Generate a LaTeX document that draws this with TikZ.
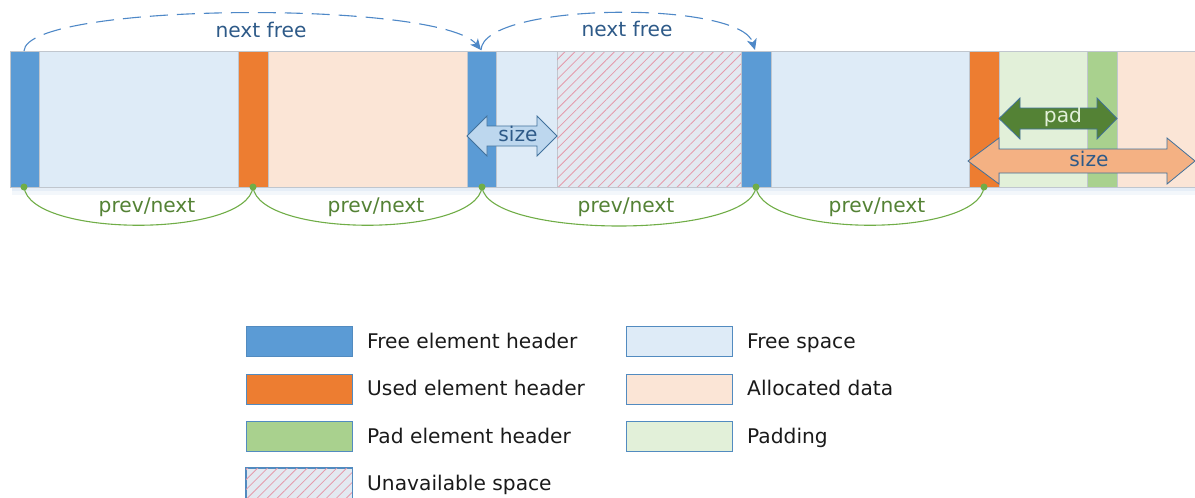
\documentclass[tikz,border=0pt]{standalone}
\usepackage{fontspec}
\setmainfont{DejaVu Sans}
\usetikzlibrary{patterns.meta,arrows.meta}
\definecolor{hdrblue}{HTML}{5B9BD5}
\definecolor{hdrorange}{HTML}{ED7D31}
\definecolor{hdrgreen}{HTML}{A9D18E}
\definecolor{spblue}{HTML}{DEEBF7}
\definecolor{sporange}{HTML}{FBE5D6}
\definecolor{spgreen}{HTML}{E2F0D9}
\definecolor{hatchbg}{HTML}{E3E9F1}
\definecolor{hatchln}{HTML}{E59AAB}
\definecolor{edgegray}{HTML}{C0C6CE}
\definecolor{arcblue}{HTML}{4E88C7}
\definecolor{txtblue}{HTML}{2E5A88}
\definecolor{arcgreen}{HTML}{70AD47}
\definecolor{txtgreen}{HTML}{548235}
\definecolor{arrowedge}{HTML}{41719C}
\definecolor{sizefill}{HTML}{BDD7EE}
\definecolor{sizeorange}{HTML}{F4B183}
\definecolor{padfill}{HTML}{548235}
\definecolor{padtxt}{HTML}{E2F0D9}
\definecolor{legtxt}{HTML}{1A1A1A}
\definecolor{shadowc}{HTML}{E6EEF7}
\newcommand\mydarrow[8]{%
  \path[#8] ({#1},{#5}) -- ({#2},{#5-#6}) -- ({#2},{#5-#7}) -- ({#3},{#5-#7}) -- ({#3},{#5-#6}) -- ({#4},{#5})
   -- ({#3},{#5+#6}) -- ({#3},{#5+#7}) -- ({#2},{#5+#7}) -- ({#2},{#5+#6}) -- cycle;}
\tikzset{
  seg/.style={draw=edgegray, line width=0.6pt},
  lbl/.style={font=\fontsize{20.2}{24}\selectfont, inner sep=1pt},
  nextarc/.style={draw=arcblue, line width=1.1pt, dash pattern=on 18pt off 9pt, -{Stealth[length=11pt,width=10pt,inset=3pt]}},
  prevarc/.style={draw=arcgreen, line width=1.1pt},
  gdot/.style={circle, fill=arcgreen, inner sep=0pt, minimum size=7pt},
  legbox/.style={draw=hdrblue!90!black, line width=0.8pt, minimum width=106pt, minimum height=30pt, inner sep=0pt},
  legtext/.style={lbl, text=legtxt, anchor=base west},
  hatch/.style={pattern={Lines[angle=45,distance=7pt,line width=0.8pt]}, pattern color=hatchln}
}
\begin{document}
\begin{tikzpicture}[x=1pt,y=-1pt]
\useasboundingbox (0,0) rectangle (1195,498);
% soft shadow under bar
\fill[shadowc] (12,187) rectangle (1195,191);
\fill[shadowc!50] (12,191) rectangle (1195,195);
% bar segments
\path[seg, fill=hdrblue]   (10,51) rectangle (39,187);
\path[seg, fill=spblue]    (39,51) rectangle (238,187);
\path[seg, fill=hdrorange] (238,51) rectangle (268,187);
\path[seg, fill=sporange]  (268,51) rectangle (467,187);
\path[seg, fill=hdrblue]   (467,51) rectangle (496,187);
\path[seg, fill=spblue]    (496,51) rectangle (557,187);
\path[seg, fill=hatchbg]   (557,51) rectangle (741,187);
\path[hatch] (557,51) rectangle (741,187);
\path[seg, fill=hdrblue]   (741,51) rectangle (771,187);
\path[seg, fill=spblue]    (771,51) rectangle (969,187);
\path[seg, fill=hdrorange] (969,51) rectangle (999,187);
\path[seg, fill=spgreen]   (999,51) rectangle (1087,187);
\path[seg, fill=hdrgreen]  (1087,51) rectangle (1117,187);
\path[seg, fill=sporange]  (1117,51) rectangle (1196,187);
\draw[edgegray, line width=0.8pt] (10,51) -- (1196,51);
\draw[edgegray, line width=0.8pt] (10,187) -- (1196,187);
% coordinates
\coordinate (t1) at (24,51);
\coordinate (t2) at (481,50);
\coordinate (t3) at (755,50);
\node[gdot] (d1) at (24,187) {};
\node[gdot] (d2) at (253,187) {};
\node[gdot] (d3) at (482,187) {};
\node[gdot] (d4) at (756,187) {};
\node[gdot] (d5) at (984,187) {};
% next free arcs
\draw[nextarc] (t1) .. controls (26,2) and (440,0) .. (t2);
\draw[nextarc] (t2) .. controls (483,2) and (740,0) .. (t3);
\node[lbl, text=txtblue] (nf1) at (261,30) {next free};
\node[lbl, text=txtblue] (nf2) at (627,29) {next free};
% prev/next arcs
\draw[prevarc] (d1.center) .. controls (30,238) and (247,238) .. (d2.center);
\draw[prevarc] (d2.center) .. controls (259,238) and (476,238) .. (d3.center);
\draw[prevarc] (d3.center) .. controls (488,239) and (750,239) .. (d4.center);
\draw[prevarc] (d4.center) .. controls (762,238) and (978,238) .. (d5.center);
\node[lbl, text=txtgreen, fill=white] (pn1) at (147,207) {prev/next};
\node[lbl, text=txtgreen, fill=white] (pn2) at (376,207) {prev/next};
\node[lbl, text=txtgreen, fill=white] (pn3) at (626,207) {prev/next};
\node[lbl, text=txtgreen, fill=white] (pn4) at (877,207) {prev/next};
% size arrow (free)
\mydarrow{467}{487}{537}{557}{136}{20}{10}{fill=sizefill, draw=arrowedge, line width=0.8pt}
\node[lbl, text=txtblue] (sz1) at (518,134) {size};
% pad arrow
\mydarrow{999}{1020}{1097}{1117}{118.5}{20.5}{10.5}{fill=padfill, draw=arrowedge, line width=0.8pt}
\node[lbl, text=padtxt] (pad) at (1063,117) {pad};
% size arrow (used)
\mydarrow{968}{999}{1167}{1195}{161}{23}{12}{fill=sizeorange, draw=arrowedge, line width=0.8pt}
\node[lbl, text=txtblue] (sz2) at (1089,159) {size};
% legend
\node[legbox, fill=hdrblue]   (lb1) at (299,341) {};
\node[legbox, fill=hdrorange] (lb2) at (299,389) {};
\node[legbox, fill=hdrgreen]  (lb3) at (299,436) {};
\node[legbox, fill=hatchbg]   (lb4) at (299,483) {};
\path[hatch] (lb4.south west) rectangle (lb4.north east);
\draw[hdrblue!90!black, line width=0.8pt] (lb4.south west) rectangle (lb4.north east);
\node[legtext] (lt1) at (366,348.5) {Free element header};
\node[legtext] (lt2) at (366,395.5) {Used element header};
\node[legtext] (lt3) at (366,443) {Pad element header};
\node[legtext] (lt4) at (366,490) {Unavailable space};
\node[legbox, fill=spblue]   (lb5) at (679,341) {};
\node[legbox, fill=sporange] (lb6) at (679,389) {};
\node[legbox, fill=spgreen]  (lb7) at (679,436) {};
\node[legtext] (lt5) at (746,348.5) {Free space};
\node[legtext] (lt6) at (746,395.5) {Allocated data};
\node[legtext] (lt7) at (746,443) {Padding};
\end{tikzpicture}
\end{document}
